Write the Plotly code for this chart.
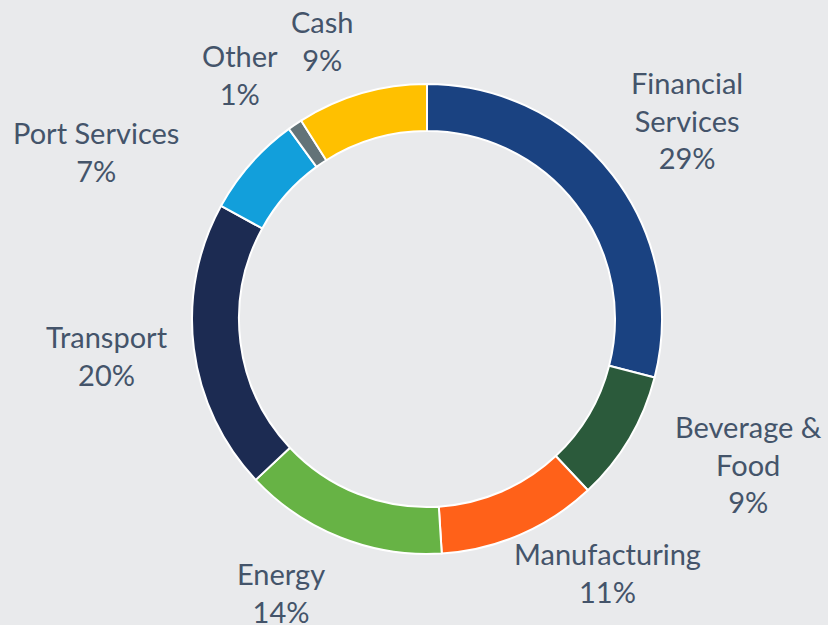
import math
import plotly.graph_objects as go

# ---- data ----
categories = ["Financial Services", "Beverage & Food", "Manufacturing", "Energy",
              "Transport", "Port Services", "Other", "Cash"]
label_lines = ["Financial<br>Services", "Beverage &<br>Food", "Manufacturing", "Energy",
               "Transport", "Port Services", "Other", "Cash"]
shares = [29, 9, 11, 14, 20, 7, 1, 9]

# ---- styles / layout ----
colors = ["#1A4281", "#2B5A3B", "#FF6119", "#67B345", "#1C2B52", "#129FDB", "#637378", "#FFC000"]
W, H = 828, 625
CX, CY, R = 427, 319, 235          # ring centre and outer radius (px)
LABEL_DIST = 325                    # base label distance (px)
label_nudge = [(3, 0), (42, -20), (51, -45), (-26, -29), (2, -4), (-87, 47), (-4, 24), (-14, 34)]
text_color = "#44546A"
bg = "#E9EAEC"
font_family = "Lato, Calibri, Carlito, sans-serif"

fig = go.Figure(go.Pie(
    labels=categories,
    values=shares,
    hole=0.8,
    sort=False,
    direction="clockwise",
    rotation=0,
    marker=dict(colors=colors, line=dict(color="white", width=2)),
    textinfo="none",
    hoverinfo="label+percent",
    showlegend=False,
    domain=dict(x=[(CX - R) / W, (CX + R) / W], y=[1 - (CY + R) / H, 1 - (CY - R) / H]),
))

total = sum(shares)
cum = 0
annotations = []
for i, (txt, v) in enumerate(zip(label_lines, shares)):
    mid = (cum + v / 2) / total * 2 * math.pi
    cum += v
    px = CX + LABEL_DIST * math.sin(mid) + label_nudge[i][0]
    py = CY - LABEL_DIST * math.cos(mid) + label_nudge[i][1]
    pct = round(v / total * 100)
    annotations.append(dict(
        x=px / W, y=1 - py / H, xref="paper", yref="paper",
        text=f"{txt}<br>{pct}%", showarrow=False,
        xanchor="center", yanchor="middle", align="center",
        font=dict(family=font_family, size=29, color=text_color),
    ))

fig.update_layout(
    width=W, height=H,
    margin=dict(l=0, r=0, t=0, b=0),
    paper_bgcolor=bg, plot_bgcolor=bg,
    annotations=annotations,
    font=dict(family=font_family, color=text_color),
)

fig.write_html(
    "out.html",
    config={"displayModeBar": False},
    post_script="document.body.style.margin='0';document.body.style.overflow='hidden';"
                "document.body.style.background='" + bg + "';",
)
